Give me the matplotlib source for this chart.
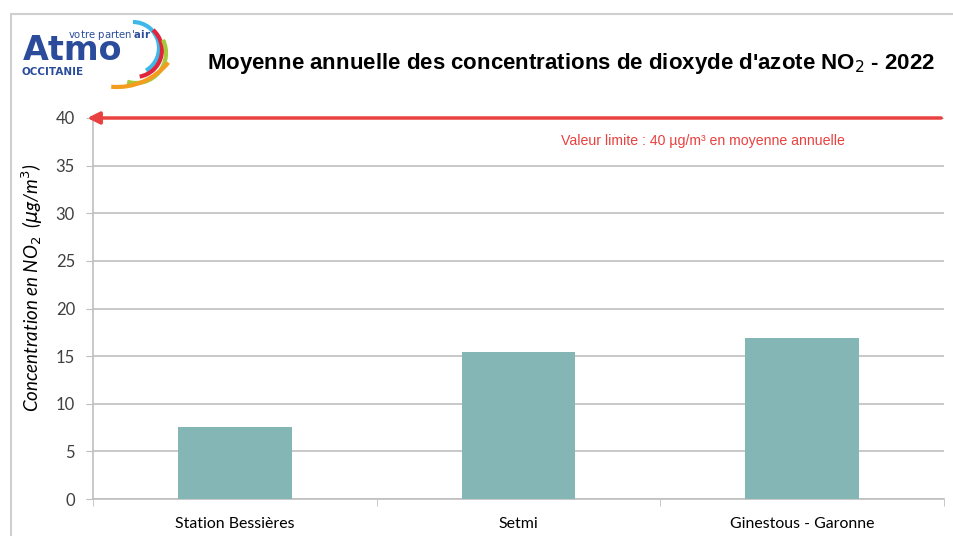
import matplotlib.pyplot as plt
import numpy as np
from matplotlib.patches import Arc, Rectangle

# Données
stations = ['Station Bessières', 'Setmi', 'Ginestous - Garonne']
no2_moyenne = [7.6, 15.4, 16.9]
valeur_limite = 40
y_ticks = [0, 5, 10, 15, 20, 25, 30, 35, 40]

bar_color = '#84b6b5'
red = '#e8413f'
grid_color = '#bfbfbf'
logo_blue = '#2b4c9b'

plt.rcParams['mathtext.fontset'] = 'dejavusans'

fig = plt.figure(figsize=(9.54, 5.36), dpi=100)

# Cadre gris du graphique
fig.patches.append(Rectangle((11 / 954, -0.1), 1.2, (536 - 14) / 536 + 0.1, transform=fig.transFigure,
                             fill=False, edgecolor='#cfcfcf', linewidth=1.5))

ax = fig.add_axes([93 / 954, 1 - 499 / 536, (944 - 93) / 954, (499 - 118) / 536])
x = np.arange(len(stations))
ax.bar(x, no2_moyenne, width=0.4, color=bar_color, zorder=3)

ax.set_xlim(-0.5, len(stations) - 0.5)
ax.set_ylim(0, 40)
ax.set_yticks(y_ticks)
ax.set_yticklabels([str(v) for v in y_ticks], fontsize=12, color='#404040', family='Lato')
ax.yaxis.grid(True, color=grid_color, linewidth=1.2, zorder=0)
ax.tick_params(axis='y', length=5, color=grid_color, pad=8)

ax.set_xticks(x)
ax.set_xticklabels(stations, fontsize=11.4, color='#000000', family='Lato')
ax.set_xticks(np.arange(len(stations) + 1) - 0.5, minor=True)
ax.tick_params(axis='x', which='major', length=0, pad=13)
ax.tick_params(axis='x', which='minor', length=5, color=grid_color)

for s in ['top', 'right']:
    ax.spines[s].set_visible(False)
for s in ['left', 'bottom']:
    ax.spines[s].set_color(grid_color)
    ax.spines[s].set_linewidth(1.2)

ax.set_ylabel(r'Concentration en NO$_2$  ($\mu$g/m$^3$)', fontsize=13.5, style='italic', family='Lato')
ax.yaxis.set_label_coords(-0.056, 0.555)

# Flèche valeur limite
ax.annotate('', xy=(-0.52, valeur_limite), xytext=(2.49, valeur_limite),
            xycoords='data', annotation_clip=False,
            arrowprops=dict(arrowstyle='-|>', color=red, lw=2.5, mutation_scale=18,
                            shrinkA=0, shrinkB=0), zorder=5)
ax.text(1.65, 37.6, 'Valeur limite : 40 µg/m³ en moyenne annuelle', color=red,
        fontsize=10.2, ha='center', va='center', family='Liberation Sans')

# Titre
fig.text(571 / 954, 1 - 64 / 536,
         "Moyenne annuelle des concentrations de dioxyde d'azote NO$_2$ - 2022",
         fontsize=16, fontweight='bold', ha='center', va='center', family='Liberation Sans')

# Logo Atmo Occitanie (approximation)
fig.text(23 / 954, 1 - 60 / 536, 'Atmo', fontsize=24, fontweight='bold', color=logo_blue,
         ha='left', va='baseline', family='DejaVu Sans')
fig.text(22 / 954, 1 - 72 / 536, 'OCCITANIE', fontsize=7.5, fontweight='bold', color=logo_blue,
         ha='left', va='center', family='DejaVu Sans')
fig.text(68 / 954, 1 - 35 / 536, r"votre parten'$\mathbf{air}$", fontsize=7.3, color=logo_blue,
         ha='left', va='center', family='DejaVu Sans')

# Arcs du logo, en coordonnées pixels (y vers le haut)
logo = fig.add_axes([95 / 954, 1 - 95 / 536, 80 / 954, 80 / 536])
logo.set_xlim(95, 175)
logo.set_ylim(536 - 95, 536 - 15)
logo.axis('off')
arcs = [((133, 536 - 48), 26, -60, 90, '#3db8e8'),
        ((135, 536 - 50), 27, -80, 48, '#e0243b'),
        ((136, 536 - 53), 30, -107, 26, '#a6c83a'),
        ((117, 536 - 21), 66, -95, -39, '#f39c1e')]
for (cx, cy), r, t1, t2, col in arcs:
    logo.add_patch(Arc((cx, cy), 2 * r, 2 * r, theta1=t1, theta2=t2, color=col, lw=3))

plt.savefig('out.png', dpi=100)
